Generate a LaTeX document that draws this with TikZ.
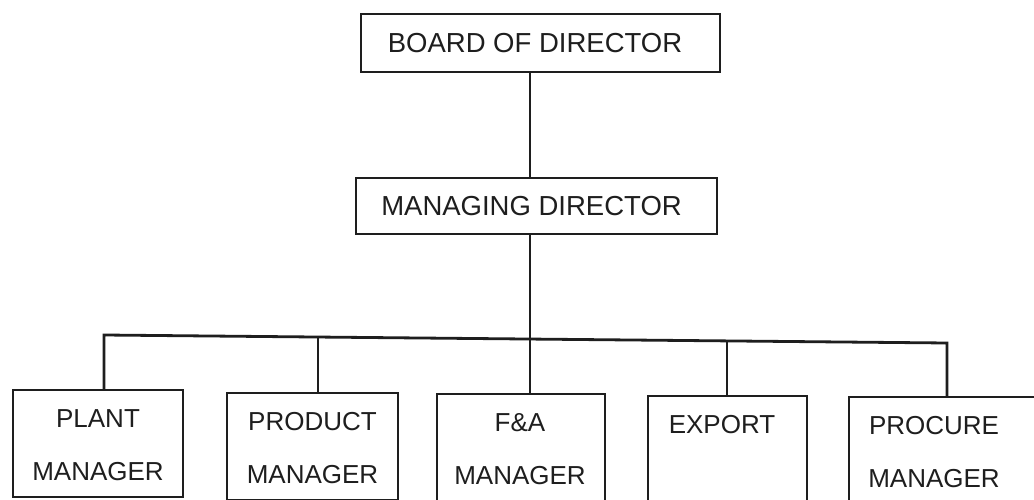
\documentclass[tikz,border=0pt]{standalone}
\usepackage{fontspec}
\setmainfont{Liberation Sans}
\usetikzlibrary{calc}
\definecolor{ink}{HTML}{1E1E1E}
\begin{document}
\begin{tikzpicture}[x=1pt,y=-1pt,
  unit/.style={draw=ink, line width=1.3pt, inner sep=0pt, outer sep=0pt, text=ink},
  topbox/.style={unit, font=\fontsize{27.5}{33}\selectfont},
  deptbox/.style={unit, anchor=north, minimum height=107pt, font=\fontsize{26}{53}\selectfont},
  link/.style={draw=ink, line width=2.5pt},
  bus/.style={draw=ink, line width=2.8pt, line join=miter}]
\useasboundingbox (0,0) rectangle (1034,500);
\clip (0,0) rectangle (1034,500);
\fill[white] (0,0) rectangle (1034,500);

% top of the hierarchy
\node[topbox, minimum width=359pt, minimum height=58pt] (board) at (540.5,43) {BOARD OF DIRECTOR\hspace*{11pt}};
\node[topbox, minimum width=361pt, minimum height=56pt] (md) at (536.5,206) {MANAGING DIRECTOR\hspace*{10pt}};

% departments
\node[deptbox, minimum width=170pt] (plant) at (98,390) {\begin{tabular}{@{}c@{}}PLANT\\MANAGER\end{tabular}};
\node[deptbox, minimum width=171pt] (product) at (312.5,393) {\begin{tabular}{@{}c@{}}PRODUCT\\MANAGER\end{tabular}};
\node[deptbox, minimum width=168pt] (fa) at (521,394) {\begin{tabular}{@{}c@{}}F\&A\\MANAGER\end{tabular}\hspace*{2pt}};
\node[deptbox, minimum width=159pt] (export) at (727.5,396) {\begin{tabular}{@{}c@{}}EXPORT\\\mbox{}\end{tabular}\hspace*{11pt}};
\node[deptbox, minimum width=191pt] (procure) at (944.5,397) {\begin{tabular}{@{}c@{}}PROCURE\\MANAGER\end{tabular}\hspace*{21pt}};

% drop points on the distribution bar
\coordinate (d1) at (104,335);
\coordinate (d2) at (318,337);
\coordinate (d3) at (530,339);
\coordinate (d4) at (727,341);
\coordinate (d5) at (947,343);

% connectors
\draw[link] (board.south -| d3) -- (md.north -| d3);
\draw[link] (md.south -| d3) -- (fa.north -| d3);
\draw[bus] (plant.north -| d1) -- (d1) -- (d5) -- (procure.north -| d5);
\draw[link] (d2) -- (product.north -| d2);
\draw[link] (d4) -- (export.north -| d4);
\end{tikzpicture}
\end{document}
